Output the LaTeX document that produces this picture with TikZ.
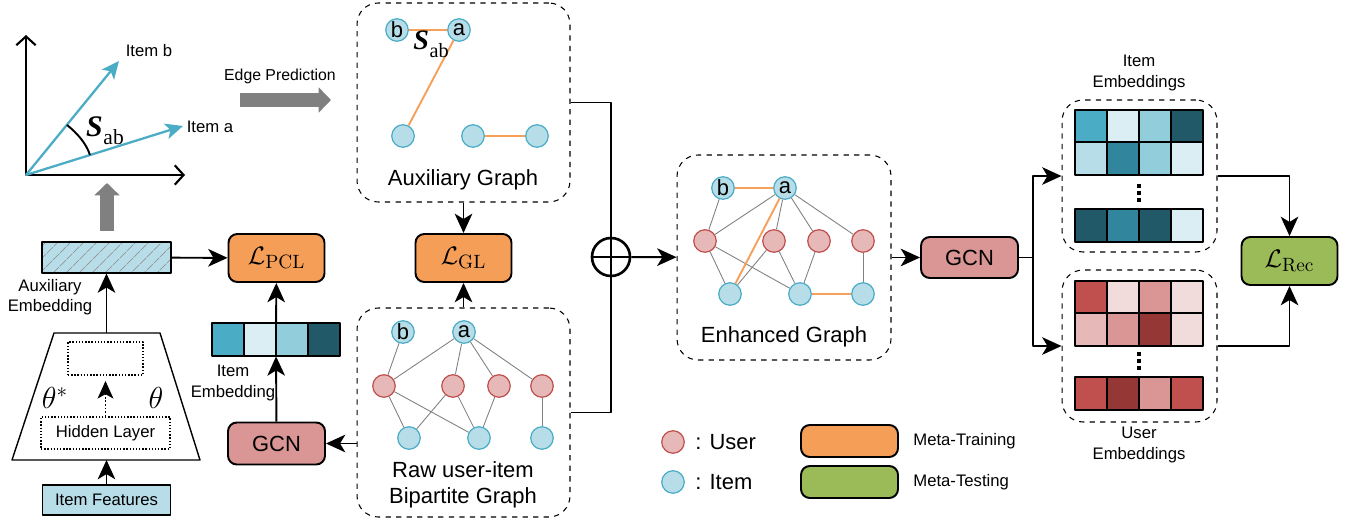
\documentclass[tikz,border=0pt]{standalone}
\usepackage[no-math]{fontspec}
\setmainfont{Liberation Sans}
\newfontfamily\serifface{Liberation Serif}
\usetikzlibrary{arrows.meta,patterns.meta}

\definecolor{itemfill}{HTML}{B7DDE8}
\definecolor{itemedge}{HTML}{4BACC6}
\definecolor{userfill}{HTML}{E6B9B8}
\definecolor{useredge}{HTML}{C0504D}
\definecolor{lossorange}{HTML}{F59E58}
\definecolor{recgreen}{HTML}{9BBB59}
\definecolor{gcnred}{HTML}{D99694}
\definecolor{auxorange}{HTML}{F6A05A}
\definecolor{fatgray}{HTML}{808080}
% embedding cell shades
\definecolor{t1}{HTML}{4BACC6}
\definecolor{t2}{HTML}{DBEEF4}
\definecolor{t3}{HTML}{92CDDC}
\definecolor{t4}{HTML}{215968}
\definecolor{t5}{HTML}{B7DDE8}
\definecolor{t6}{HTML}{31859C}
\definecolor{r1}{HTML}{C0504D}
\definecolor{r2}{HTML}{F2DCDB}
\definecolor{r3}{HTML}{D99694}
\definecolor{r4}{HTML}{E6B9B8}
\definecolor{r5}{HTML}{953735}

\newcommand\lblfont{\fontsize{12.5}{15}\selectfont}
\newcommand\smfont{\fontsize{9.5}{11.5}\selectfont}
\newcommand\lossfont{\fontsize{15}{15}\selectfont}
% similarity symbol S_ab
\newcommand\simab[1]{{\serifface\fontsize{#1}{#1}\selectfont\bfseries\itshape S\kern0.02em\raisebox{-0.28em}{\mdseries\upshape\fontsize{0.72\dimexpr#1pt}{1}\selectfont ab}}}

\begin{document}
\begin{tikzpicture}[x=0.02cm,y=-0.02cm,line join=round,
    every node/.style={inner sep=0pt},
    blk/.style={line width=1.1pt,-{Stealth[length=11pt,width=10pt,inset=3pt]}},
    vec/.style={itemedge,line width=1.3pt,-{Stealth[length=10pt,width=9pt,inset=2.5pt]}},
    fat/.style={fatgray,line width=8pt,-{Triangle[length=7pt,width=14pt]}},
    itemnode/.style={circle,draw=itemedge,fill=itemfill,line width=0.7pt,minimum size=0.45cm,font=\lblfont},
    usernode/.style={circle,draw=useredge,fill=userfill,line width=0.7pt,minimum size=0.45cm},
    lossbox/.style={draw,line width=1.1pt,rounded corners=5pt,minimum width=1.92cm,minimum height=0.96cm,font=\lossfont},
    gcnbox/.style={draw,line width=1.1pt,rounded corners=5pt,fill=gcnred,minimum width=1.94cm,minimum height=0.84cm,font=\lblfont},
    graphbox/.style={draw,dashed,line width=0.6pt,rounded corners=12pt},
    edge/.style={draw=gray,line width=0.5pt},
    auxedge/.style={draw=auxorange,line width=1.1pt},
    cell/.style={draw,line width=1.1pt,minimum width=0.64cm,minimum height=0.65cm},
    dotbox/.style={draw,densely dotted,line width=0.8pt}]
  \useasboundingbox (0,0) rectangle (1354,523);

  % embedding space with the two item vectors
  \coordinate (orig) at (26,175);
  \draw[line width=1.2pt,{Straight Barb[length=5pt,width=11pt]}-{Straight Barb[length=5pt,width=11pt]}]
    (26,35) -- (orig) -- (185,175);
  \draw[vec] (orig) -- (119,61);
  \draw[vec] (orig) -- (183,126);
  \draw[line width=1.1pt] (67,125) .. controls (77,133) and (86,143) .. (90,155);
  \node[font=\smfont] (lblb) at (149,51) {Item b};
  \node[font=\smfont] (lbla) at (210,127) {Item a};
  \node (sab) at (105,131) {\simab{17}};

  \draw[fat] (240,100) -- (331,100);
  \node[font=\fontsize{9}{11}\selectfont] (edgepred) at (280,76) {Edge Prediction};
  \draw[fat] (107,231) -- (107,183);

  % encoder
  \node[draw,line width=1.1pt,minimum width=2.58cm,minimum height=0.62cm,
    preaction={fill=itemfill},pattern={Lines[angle=45,distance=5.4pt,line width=0.5pt]},
    pattern color=gray!80] (auxemb) at (106.5,257.5) {};
  \node[font=\smfont,align=center] (auxlbl) at (50,297) {Auxiliary\\Embedding};
  \draw[line width=0.8pt] (54,333) -- (160,333) -- (200,460) -- (12,460) -- cycle;
  \coordinate (traptop) at (106.5,333);
  \coordinate (trapbot) at (106.5,460);
  \node[dotbox,minimum width=1.5cm,minimum height=0.66cm] (hidtop) at (105.5,358.5) {};
  \node[dotbox,minimum width=2.58cm,minimum height=0.64cm,font=\smfont] (hidden) at (105.5,433) {Hidden Layer};
  \draw[densely dotted,line width=1pt,-{Stealth[length=10pt,width=9pt,inset=2.5pt]},shorten >=3pt]
    (hidden) -- (hidtop);
  \node[font=\fontsize{17}{17}\selectfont] (thstar) at (55,398) {$\theta^*$};
  \node[font=\fontsize{17}{17}\selectfont] (theta) at (156,398) {$\theta$};
  \node[draw,line width=1.1pt,fill=itemfill,minimum width=2.56cm,minimum height=0.6cm,font=\smfont]
    (feat) at (106.5,500) {Item Features};
  \draw[blk] (feat) -- (trapbot);
  \draw[blk] (traptop) -- (auxemb);

  % contrastive branch
  \node[lossbox,fill=lossorange] (lpcl) at (276.5,258) {$\mathcal{L}_{\mathrm{PCL}}$};
  \node[minimum width=2.56cm,minimum height=0.66cm] (strip) at (276,339.5) {};
  \foreach \c [count=\i from 0] in {t1,t2,t3,t4}
    \node[cell,minimum height=0.66cm,fill=\c] at (228+32*\i,339.5) {};
  \node[font=\smfont,align=center] (stripl) at (233,383) {Item\\Embedding};
  \node[gcnbox] (gcnl) at (276.5,443.5) {GCN};
  \draw[blk] (gcnl) -- (strip);
  \draw[blk] (strip) -- (lpcl);
  \draw[blk] (auxemb) -- (lpcl);

  % auxiliary graph
  \node[graphbox,minimum width=4.26cm,minimum height=3.98cm] (auxg) at (463.5,102.5) {};
  \node[itemnode] (xb) at (397,30) {b};
  \node[itemnode] (xa) at (459,30) {a};
  \node[itemnode] (xi1) at (403,136) {};
  \node[itemnode] (xi2) at (473,136) {};
  \node[itemnode] (xi3) at (537,136) {};
  \draw[auxedge] (xb) -- (xa);
  \draw[auxedge] (xa) -- (xi1);
  \draw[auxedge] (xi2) -- (xi3);
  \node (xsab) at (431,44) {\simab{16}};
  \node[font=\lblfont] (auxglbl) at (463,180) {Auxiliary Graph};

  \node[lossbox,fill=lossorange] (lgl) at (463.5,258) {$\mathcal{L}_{\mathrm{GL}}$};

  % raw bipartite graph
  \node[graphbox,minimum width=4.26cm,minimum height=4.18cm] (bip) at (463.5,412.5) {};
  \node[itemnode] (rb) at (403,332) {b};
  \node[itemnode] (ra) at (464,332) {a};
  \node[usernode] (ru1) at (384,386) {};
  \node[usernode] (ru2) at (453,386) {};
  \node[usernode] (ru3) at (499,386) {};
  \node[usernode] (ru4) at (542,386) {};
  \node[itemnode] (ri1) at (409,438) {};
  \node[itemnode] (ri2) at (479,438) {};
  \node[itemnode] (ri3) at (542,438) {};
  \node[font=\lblfont,align=center] (biplbl) at (463,485) {Raw user-item\\Bipartite Graph};

  \draw[blk] (auxg) -- (lgl);
  \draw[blk] (bip) -- (lgl);
  \draw[blk] (bip.west |- gcnl) -- (gcnl);

  % fusion
  \node[circle,draw,line width=1.5pt,minimum size=0.76cm] (oplus) at (611,257) {};
  \draw[line width=1.1pt] (auxg.east) -| (oplus.north) -- (oplus.south) |- (bip.east);
  \draw[line width=1.5pt] (oplus.west) -- (oplus.east);

  % enhanced graph
  \node[graphbox,minimum width=4.28cm,minimum height=4.1cm] (enh) at (784,257.5) {};
  \node[itemnode] (eb) at (723,188) {b};
  \node[itemnode] (ea) at (785,188) {a};
  \node[usernode] (eu1) at (705,241) {};
  \node[usernode] (eu2) at (774,241) {};
  \node[usernode] (eu3) at (819,241) {};
  \node[usernode] (eu4) at (863,241) {};
  \node[itemnode] (ei1) at (730,294) {};
  \node[itemnode] (ei2) at (800,294) {};
  \node[itemnode] (ei3) at (863,294) {};
  \node[font=\lblfont] (enhlbl) at (784,337) {Enhanced Graph};

  \foreach \p/\q in {b/u1,a/u1,a/u2,a/u3,a/u4,u1/i1,u1/i2,u2/i1,u2/i2,u3/i2,u4/i3} {
    \draw[edge] (r\p) -- (r\q);
    \draw[edge] (e\p) -- (e\q);
  }
  \draw[auxedge] (eb) -- (ea);
  \draw[auxedge] (ea) -- (ei1);
  \draw[auxedge] (ei2) -- (ei3);

  \draw[blk] (oplus) -- (enh);
  \node[gcnbox,minimum height=0.82cm] (gcnr) at (969.5,257.5) {GCN};
  \draw[blk] (enh) -- (gcnr);

  % item / user embedding tables
  \node[graphbox,minimum width=3.1cm,minimum height=3.04cm] (itembox) at (1139.5,176) {};
  \node[graphbox,minimum width=3.1cm,minimum height=3.04cm] (userbox) at (1139.5,346) {};
  \foreach \c [count=\i from 0] in {t1,t2,t3,t4}
    \node[cell,fill=\c] at (1091+32*\i,126) {};
  \foreach \c [count=\i from 0] in {t5,t6,t3,t2}
    \node[cell,fill=\c] at (1091+32*\i,158.5) {};
  \foreach \c [count=\i from 0] in {t4,t6,t4,t2}
    \node[cell,fill=\c] at (1091+32*\i,225.5) {};
  \foreach \c [count=\i from 0] in {r1,r2,r3,r2}
    \node[cell,fill=\c] at (1091+32*\i,297) {};
  \foreach \c [count=\i from 0] in {r4,r3,r5,r2}
    \node[cell,fill=\c] at (1091+32*\i,329.5) {};
  \foreach \c [count=\i from 0] in {r1,r5,r3,r1}
    \node[cell,fill=\c] at (1091+32*\i,393.5) {};
  \foreach \d in {186,193,200,354,361,368}
    \node[fill,minimum size=2.8pt] at (1139,\d) {};
  \node[font=\smfont,align=center] (itemlbl) at (1139,73) {Item\\Embeddings};
  \node[font=\smfont,align=center] (userlbl) at (1139,445) {User\\Embeddings};

  \coordinate (split) at (1033,257.5);
  \draw[line width=1.1pt] (gcnr) -- (split);
  \draw[blk] (split) |- (itembox.west);
  \draw[blk] (split) |- (userbox.west);

  \node[lossbox,fill=recgreen] (lrec) at (1289.5,261) {$\mathcal{L}_{\mathrm{Rec}}$};
  \draw[blk] (itembox.east) -| (lrec.north);
  \draw[blk] (userbox.east) -| (lrec.south);

  % legend
  \node[usernode] (legu) at (673,442) {};
  \node[font=\lblfont,anchor=west] (legut) at (695,442) {: User};
  \node[itemnode] (legi) at (673,482) {};
  \node[font=\lblfont,anchor=west] (legit) at (695,482) {: Item};
  \node[draw,line width=1.1pt,rounded corners=5pt,fill=lossorange,minimum width=1.94cm,minimum height=0.64cm] (legtr) at (849.5,441) {};
  \node[draw,line width=1.1pt,rounded corners=5pt,fill=recgreen,minimum width=1.94cm,minimum height=0.64cm] (legte) at (849.5,482) {};
  \node[font=\smfont,anchor=west] (legtrt) at (913,441) {Meta-Training};
  \node[font=\smfont,anchor=west] (legtet) at (913,482) {Meta-Testing};
\end{tikzpicture}
\end{document}
